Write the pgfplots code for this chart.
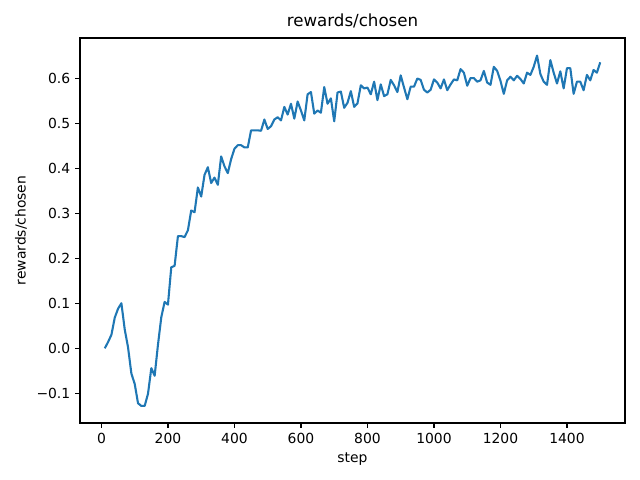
\documentclass[border=0pt]{standalone}
\usepackage{fontspec}
\setmainfont{DejaVu Sans}
\usepackage{pgfplots}
\pgfplotsset{compat=1.18}
\usetikzlibrary{calc}
\definecolor{mplblue}{HTML}{1F77B4}

\pgfplotstableread{
step val
10 0.000
20 0.014
30 0.030
40 0.068
50 0.088
60 0.100
70 0.042
80 0.002
90 -0.056
100 -0.079
110 -0.122
120 -0.128
130 -0.128
140 -0.101
150 -0.044
160 -0.061
170 0.008
180 0.069
190 0.103
200 0.097
210 0.180
220 0.183
230 0.249
240 0.249
250 0.247
260 0.262
270 0.306
280 0.302
290 0.357
300 0.337
310 0.385
320 0.402
330 0.367
340 0.379
350 0.363
360 0.426
370 0.404
380 0.389
390 0.420
400 0.443
410 0.451
420 0.451
430 0.446
440 0.446
450 0.484
460 0.484
470 0.484
480 0.483
490 0.508
500 0.487
510 0.493
520 0.508
530 0.513
540 0.506
550 0.536
560 0.519
570 0.543
580 0.510
590 0.548
600 0.528
610 0.506
620 0.564
630 0.569
640 0.521
650 0.528
660 0.523
670 0.580
680 0.543
690 0.555
700 0.504
710 0.568
720 0.570
730 0.534
740 0.545
750 0.571
760 0.536
770 0.544
780 0.584
790 0.577
800 0.579
810 0.564
820 0.592
830 0.551
840 0.586
850 0.560
860 0.564
870 0.596
880 0.584
890 0.569
900 0.606
910 0.579
920 0.553
930 0.581
940 0.581
950 0.599
960 0.596
970 0.574
980 0.568
990 0.574
1000 0.597
1010 0.590
1020 0.577
1030 0.597
1040 0.573
1050 0.586
1060 0.597
1070 0.595
1080 0.620
1090 0.612
1100 0.583
1110 0.600
1120 0.600
1130 0.592
1140 0.595
1150 0.616
1160 0.590
1170 0.585
1180 0.625
1190 0.616
1200 0.594
1210 0.565
1220 0.595
1230 0.603
1240 0.595
1250 0.605
1260 0.598
1270 0.588
1280 0.612
1290 0.607
1300 0.625
1310 0.650
1320 0.609
1330 0.592
1340 0.585
1350 0.640
1360 0.612
1370 0.588
1380 0.615
1390 0.577
1400 0.622
1410 0.622
1420 0.565
1430 0.592
1440 0.592
1450 0.573
1460 0.607
1470 0.595
1480 0.618
1490 0.612
1500 0.635
}\chosen

\begin{document}
\begin{tikzpicture}
\begin{axis}[
  scale only axis, width=392.4pt, height=277.2pt,
  xmin=-64.5, xmax=1574.5, ymin=-0.1659, ymax=0.689,
  axis line style={line width=0.8pt},
  tick style={line width=0.8pt, black},
  tick align=outside, tick pos=left, major tick length=3.5pt,
  xtick={0,200,...,1400},
  xticklabels={0,200,400,600,800,1000,1200,1400},
  ytick={-0.1,0,0.1,0.2,0.3,0.4,0.5,0.6},
  yticklabels={−0.1,0.0,0.1,0.2,0.3,0.4,0.5,0.6},
  tick label style={font=\fontsize{10}{12}\selectfont},
  label style={font=\fontsize{10}{12}\selectfont},
  xlabel={step}, ylabel={rewards/chosen},
  title={rewards/chosen},
  title style={font=\fontsize{12}{14}\selectfont, anchor=base, at={(0.5,1)}, yshift=2.5pt},
]
\addplot[mplblue, line width=1.5pt, line join=round] table[x=step, y=val] {\chosen};
\coordinate (bl) at (rel axis cs:0,0);
\coordinate (tr) at (rel axis cs:1,1);
\end{axis}
\pgfresetboundingbox
\path ($(bl)+(-57.6pt,-41.04pt)$) rectangle ($(tr)+(10.8pt,27.36pt)$);
\end{tikzpicture}
\end{document}
